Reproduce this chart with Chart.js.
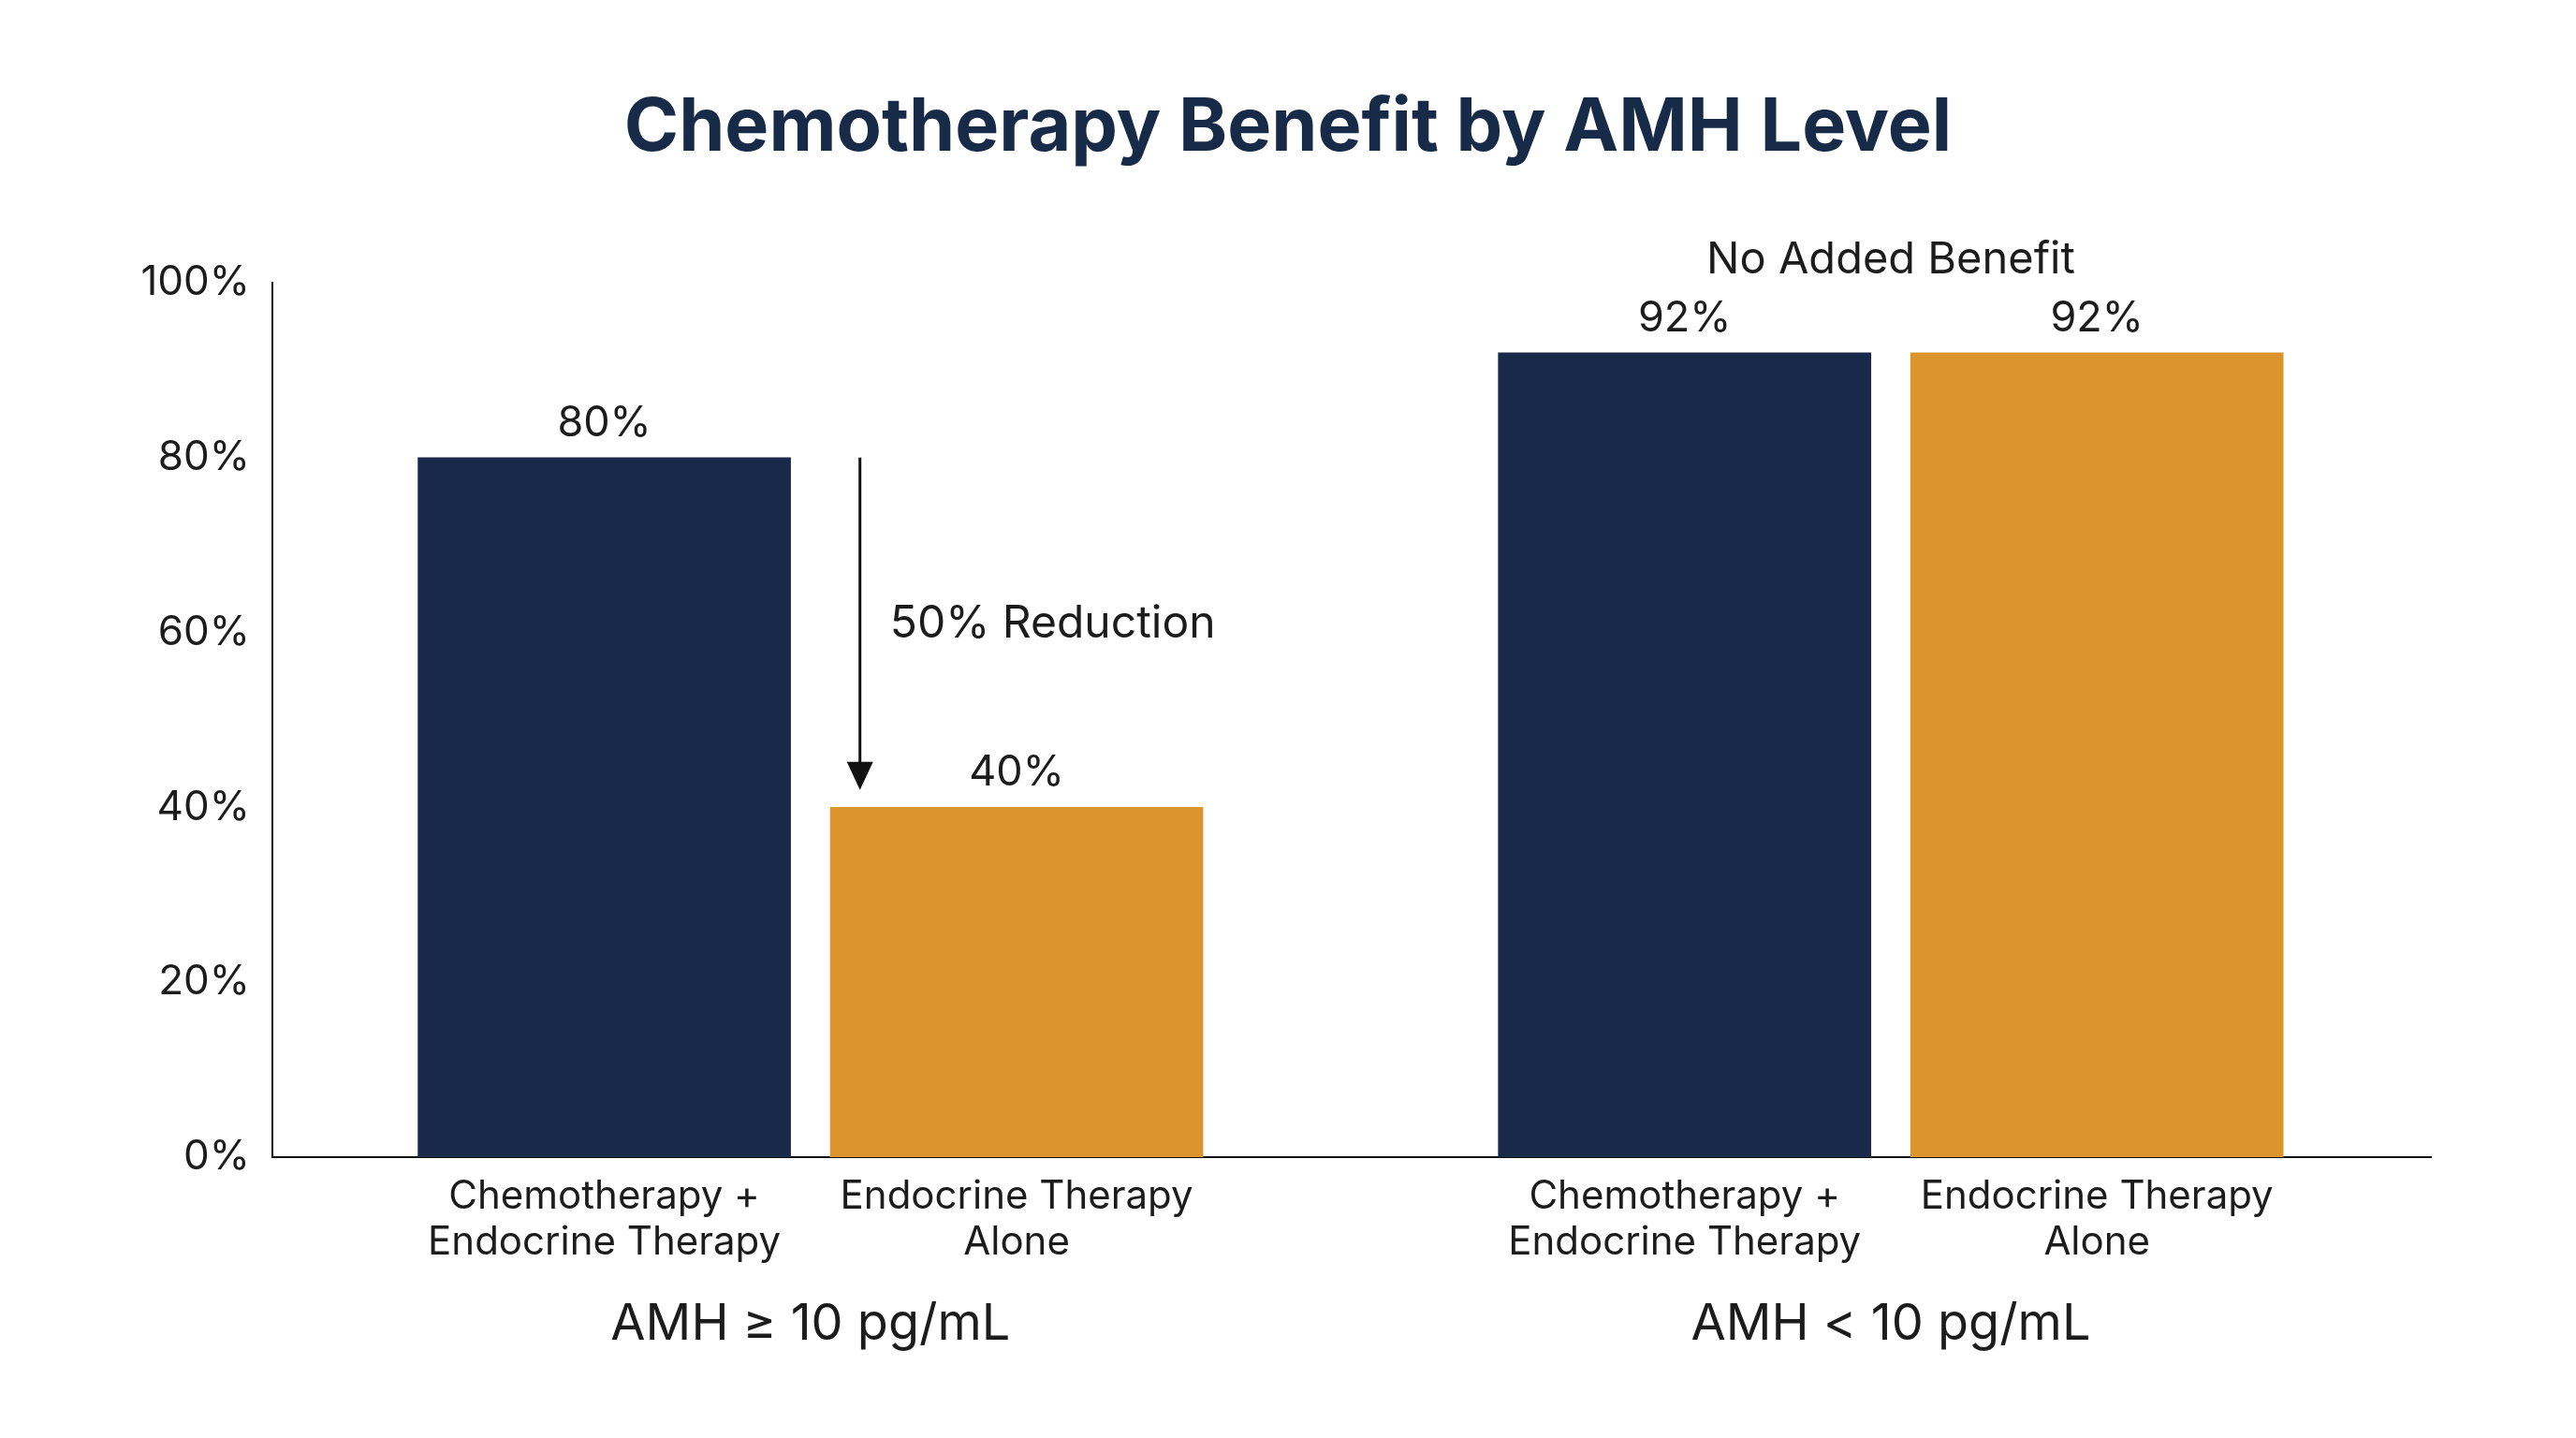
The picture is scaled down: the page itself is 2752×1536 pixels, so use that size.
<!DOCTYPE html>
<html>
<head>
<meta charset="utf-8">
<script src="https://cdn.jsdelivr.net/npm/chart.js@4.4.0/dist/chart.umd.min.js"></script>
<style>
  html, body { margin: 0; padding: 0; background: #fff; }
  #wrap { width: 2752px; height: 1536px; }
</style>
</head>
<body>
<div id="wrap"><canvas id="chart" width="2752" height="1536"></canvas></div>
<script>
// Data
const groups = ['AMH \u2265 10 pg/mL', 'AMH < 10 pg/mL'];
const groupCenters = [1.5, 4.12];
const categories = [['Chemotherapy +', 'Endocrine Therapy'], ['Endocrine Therapy', 'Alone'],
                    ['Chemotherapy +', 'Endocrine Therapy'], ['Endocrine Therapy', 'Alone']];
const positions = [1, 2, 3.62, 4.62];
const values = [80, 40, 92, 92];
const barColors = ['#18294a', '#dc952c', '#18294a', '#dc952c'];
const yTicks = [0, 20, 40, 60, 80, 100];

const FONT = 'Inter, "Noto Sans", sans-serif';
const TEXT = '#1c1c1c';

const annotations = {
  id: 'annotations',
  afterDatasetsDraw(chart) {
    const { ctx, scales: { x, y } } = chart;
    ctx.save();
    // title
    ctx.fillStyle = '#172a47';
    ctx.font = `bold 79px ${FONT}`;
    ctx.textAlign = 'center';
    ctx.textBaseline = 'middle';
    ctx.fillText('Chemotherapy Benefit by AMH Level', 1376, 137);

    // value labels
    ctx.fillStyle = TEXT;
    ctx.font = `45px ${FONT}`;
    ctx.textBaseline = 'bottom';
    values.forEach((v, i) => {
      ctx.fillText(v + '%', x.getPixelForValue(positions[i]), y.getPixelForValue(v) - 14);
    });

    // group labels
    ctx.font = `54px ${FONT}`;
    ctx.textBaseline = 'middle';
    groups.forEach((g, i) => ctx.fillText(g, x.getPixelForValue(groupCenters[i]), 1415));

    // No Added Benefit
    ctx.font = `47px ${FONT}`;
    ctx.fillText('No Added Benefit', x.getPixelForValue(groupCenters[1]), y.getPixelForValue(102.6));

    // arrow
    const ax = x.getPixelForValue(1.62);
    const y1 = y.getPixelForValue(values[0]);
    const y2 = y.getPixelForValue(values[1] + 2);
    ctx.strokeStyle = '#111';
    ctx.fillStyle = '#111';
    ctx.lineWidth = 3;
    ctx.beginPath();
    ctx.moveTo(ax, y1);
    ctx.lineTo(ax, y2 - 26);
    ctx.stroke();
    ctx.beginPath();
    ctx.moveTo(ax, y2);
    ctx.lineTo(ax - 14, y2 - 30);
    ctx.lineTo(ax + 14, y2 - 30);
    ctx.closePath();
    ctx.fill();

    ctx.fillStyle = TEXT;
    ctx.textAlign = 'left';
    ctx.font = `48px ${FONT}`;
    ctx.fillText('50% Reduction', ax + 32, y.getPixelForValue(61));
    ctx.restore();
  }
};

new Chart(document.getElementById('chart'), {
  type: 'bar',
  data: {
    datasets: [{
      data: positions.map((p, i) => ({ x: p, y: values[i] })),
      backgroundColor: barColors,
      barThickness: 398,
      borderWidth: 0
    }]
  },
  options: {
    responsive: false,
    animation: false,
    layout: { padding: { top: 302, right: 155, left: 0, bottom: 0 } },
    plugins: { legend: { display: false }, tooltip: { enabled: false } },
    scales: {
      x: {
        type: 'linear',
        offset: false,
        min: 0.195,
        max: 5.43,
        grid: { display: false, drawTicks: false },
        border: { display: true, color: '#111', width: 2 },
        afterBuildTicks: s => { s.ticks = positions.map(v => ({ value: v })); },
        afterFit: s => { s.height = 1536 - 1236; },
        ticks: {
          autoSkip: false,
          maxRotation: 0,
          padding: 18,
          color: TEXT,
          font: { family: FONT, size: 42, lineHeight: 1.17 },
          callback: (v) => categories[positions.indexOf(v)] || ''
        }
      },
      y: {
        min: 0,
        max: 100,
        grid: { display: false, drawTicks: false },
        border: { display: true, color: '#111', width: 2 },
        afterBuildTicks: s => { s.ticks = yTicks.map(v => ({ value: v })); },
        afterFit: s => { s.width = 291; },
        ticks: {
          padding: 24,
          color: TEXT,
          font: { family: FONT, size: 44 },
          callback: v => v + '%'
        }
      }
    }
  },
  plugins: [annotations]
});
</script>
</body>
</html>
